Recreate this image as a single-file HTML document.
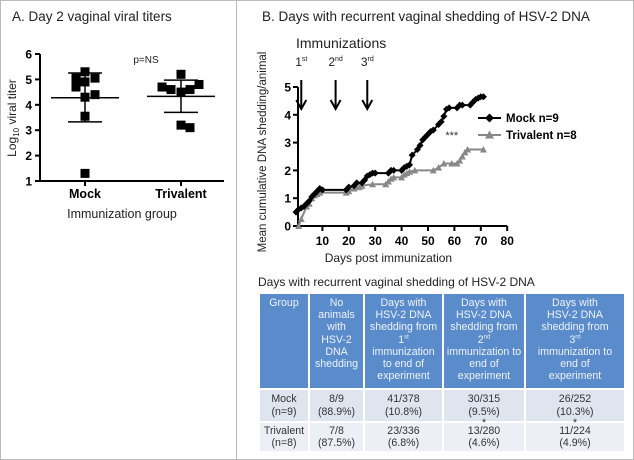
<!DOCTYPE html>
<html><head><meta charset="utf-8"><style>
body{margin:0;width:634px;height:460px;overflow:hidden;background:#fff;font-family:"Liberation Sans",sans-serif;}
#wrap{position:relative;width:634px;height:460px;}
.panel{position:absolute;border:1px solid #bbb;box-sizing:border-box;}
table{position:absolute;left:258px;top:292px;width:368px;border-collapse:collapse;font-size:10.6px;line-height:12.2px;text-align:center;}
th{background:#5a8ccb;color:#eef3fa;font-weight:normal;vertical-align:top;padding:3px 0;border:2px solid #fff;}
td{color:#333;padding:1px 0;border:2px solid #fff;}
tr.r1 td{background:#dfe5ef;height:29px;}
tr.r2 td{background:#eceff5;height:26px;}
sup{font-size:6px;line-height:0;}
</style></head><body><div id="wrap">
<div class="panel" style="left:0;top:0;width:237px;height:460px"></div>
<div class="panel" style="left:236px;top:0;width:398px;height:460px"></div>
<svg id="chartA" width="237" height="235" style="position:absolute;left:0;top:0"></svg>
<svg id="chartB" width="398" height="270" style="position:absolute;left:236px;top:0"></svg>
<div style="position:absolute;left:258px;top:275px;font-size:12px;color:#222">Days with recurrent vaginal shedding of HSV-2 DNA</div>
<table>
<tr style="height:96px"><th style="width:48px">Group</th><th style="width:53px">No<br>animals<br>with<br>HSV-2<br>DNA<br>shedding</th><th style="width:77px">Days with<br>HSV-2 DNA<br>shedding from<br>1<sup>st</sup><br>immunization<br>to end of<br>experiment</th><th style="width:80px">Days with<br>HSV-2 DNA<br>shedding from<br>2<sup>nd</sup><br>immunization to<br>end of<br>experiment</th><th>Days with<br>HSV-2 DNA<br>shedding from<br>3<sup>rd</sup><br>immunization to<br>end of<br>experiment</th></tr>
<tr class="r1"><td>Mock<br>(n=9)</td><td>8/9<br>(88.9%)</td><td>41/378<br>(10.8%)</td><td>30/315<br>(9.5%)</td><td>26/252<br>(10.3%)</td></tr>
<tr class="r2"><td>Trivalent<br>(n=8)</td><td>7/8<br>(87.5%)</td><td>23/336<br>(6.8%)</td><td style="position:relative"><span style="position:absolute;left:0;right:0;top:-6px">*</span>13/280<br>(4.6%)</td><td style="position:relative"><span style="position:absolute;left:0;right:0;top:-6px">*</span>11/224<br>(4.9%)</td></tr>
</table>
</div>
<script>
const NS="http://www.w3.org/2000/svg";
function mk(p,t,a,txt){const e=document.createElementNS(NS,t);for(const k in a)e.setAttribute(k,a[k]);if(txt!==undefined)e.textContent=txt;p.appendChild(e);return e;}
// Chart A data
const groupsA=["Mock","Trivalent"];
const mockTiters=[5.3,5.05,5.05,4.9,4.7,4.4,4.3,3.55,1.3];
const triTiters=[5.2,4.8,4.7,4.6,4.6,4.5,3.2,3.1];
const mockMean=4.28, mockUpper=5.25, mockLower=3.33;
const triMean=4.33, triUpper=4.97, triLower=3.7;
const mockOffsets=[0,-9,10,0,-9,10,0,0,0];
const triOffsets=[0,18,-19,-10,9,0,0,9];
const yTicksA=[1,2,3,4,5,6];
// Chart B data
const days=[0,1,2,3,4,5,6,7,8,9,10,19,20,22,23,25,26,27,28,29,30,35,36,37,40,41,42,43,44,46,47,48,49,50,51,52,54,55,56,57,58,61,62,63,66,67,68,69,70,71];
const mockShed=[0.5,0.6,0.65,0.7,0.8,0.9,1.05,1.15,1.25,1.35,1.3,1.3,1.4,1.45,1.55,1.55,1.65,1.8,1.85,1.9,1.9,1.9,2.0,2.0,2.0,2.1,2.15,2.2,2.55,2.75,2.9,3.1,3.2,3.3,3.4,3.45,3.65,3.75,3.95,4.2,4.25,4.25,4.35,4.35,4.35,4.45,4.55,4.6,4.65,4.65];
const triDays=[1,2,4,5,6,7,8,9,19,20,22,24,25,29,34,35,36,37,40,41,42,43,45,52,54,56,59,61,62,63,64,65,71];
const triShed=[0,0.25,0.7,0.8,1.0,1.1,1.15,1.2,1.2,1.25,1.35,1.4,1.45,1.5,1.5,1.6,1.7,1.75,1.75,1.85,1.9,1.95,2.0,2.0,2.1,2.25,2.25,2.25,2.35,2.5,2.65,2.75,2.75];
const xTicksB=[10,20,30,40,50,60,70,80];
const yTicksB=[0,1,2,3,4,5];
const immunDays=[2,15,27];
const immunLabels=[["1","st"],["2","nd"],["3","rd"]];

// ---- Chart A
(function(){
const s=document.getElementById('chartA');
const y=v=>181-(v-1)*25.4, gx=[85,181];
mk(s,'text',{x:12,y:21,'font-size':13.5,fill:'#222',},'A.  Day 2 vaginal viral titers');
mk(s,'line',{x1:40,x2:40,y1:y(6),y2:y(1)+1,stroke:'#000','stroke-width':2,});
mk(s,'line',{x1:39,x2:224,y1:y(1),y2:y(1),stroke:'#000','stroke-width':2,});
yTicksA.forEach(t=>{const l=mk(s,'line',{x1:35,x2:40,y1:y(t),y2:y(t),stroke:'#000','stroke-width':2});

const tx=mk(s,'text',{x:32,y:y(t)+4.5,'font-size':12,'font-weight':'bold','text-anchor':'end'},t);
});
groupsA.forEach((g,i)=>{mk(s,'line',{x1:gx[i],x2:gx[i],y1:y(1),y2:y(1)+5,stroke:'#000','stroke-width':2});
const tx=mk(s,'text',{x:gx[i],y:198,'font-size':12.5,'font-weight':'bold','text-anchor':'middle'},g);
});
const t=mk(s,'text',{transform:'translate(16,118) rotate(-90)','font-size':12,'text-anchor':'middle',fill:'#222',});
t.innerHTML='Log<tspan font-size="8" dy="3">10</tspan><tspan dy="-3"> viral titer</tspan>';
mk(s,'text',{x:122,y:218,'font-size':12.5,'text-anchor':'middle',fill:'#222',},'Immunization group');
mk(s,'text',{x:146,y:63,'font-size':10,'text-anchor':'middle',fill:'#222',},'p=NS');
const stats=[[mockMean,mockUpper,mockLower],[triMean,triUpper,triLower]];
[mockTiters,triTiters].forEach((arr,i)=>{const offs=i?triOffsets:mockOffsets;
const [m,u,lo]=stats[i];
const ml=mk(s,'line',{x1:gx[i]-34,x2:gx[i]+34,y1:y(m),y2:y(m),stroke:'#000','stroke-width':1.5});

[u,lo].forEach(v=>{const l=mk(s,'line',{x1:gx[i]-17,x2:gx[i]+17,y1:y(v),y2:y(v),stroke:'#000','stroke-width':1.5});
});
const e=mk(s,'line',{x1:gx[i],x2:gx[i],y1:y(u),y2:y(lo),stroke:'#000','stroke-width':1.5});

arr.forEach((v,j)=>{const r=mk(s,'rect',{x:gx[i]+offs[j]-4.5,y:y(v)-4.5,width:9,height:9,fill:'#000'});
});});
})();

// ---- Chart B
(function(){
const s=document.getElementById('chartB');
const X=d=>60+d*2.64, Y=v=>226-v*27.8;
mk(s,'text',{x:26,y:21,'font-size':13.5,fill:'#222',},'B.  Days with recurrent vaginal shedding of HSV-2 DNA');
mk(s,'text',{x:60,y:48,'font-size':14,fill:'#222',},'Immunizations');
mk(s,'line',{x1:62,x2:62,y1:Y(5),y2:Y(0)+1,stroke:'#000','stroke-width':2,});
mk(s,'line',{x1:61,x2:X(80),y1:Y(0),y2:Y(0),stroke:'#000','stroke-width':2,});
yTicksB.forEach(t=>{mk(s,'line',{x1:57,x2:62,y1:Y(t),y2:Y(t),stroke:'#000','stroke-width':2});
const tx=mk(s,'text',{x:55,y:Y(t)+4.5,'font-size':12,'font-weight':'bold','text-anchor':'end'},t);
});
xTicksB.forEach(t=>{mk(s,'line',{x1:X(t),x2:X(t),y1:Y(0),y2:Y(0)+5,stroke:'#000','stroke-width':2});
const tx=mk(s,'text',{x:X(t),y:Y(0)+19,'font-size':12,'font-weight':'bold','text-anchor':'middle'},t);
});
mk(s,'text',{x:X(35),y:262,'font-size':12,'text-anchor':'middle',fill:'#222',},'Days post immunization');
mk(s,'text',{transform:'translate(30,152) rotate(-90)','font-size':11.5,'text-anchor':'middle',fill:'#222',},'Mean cumulative DNA shedding/animal');
immunDays.forEach((d,i)=>{const tx=mk(s,'text',{x:X(d),y:66,'font-size':12,'text-anchor':'middle',fill:'#222'});
tx.innerHTML=immunLabels[i][0]+'<tspan font-size="7" dy="-5">'+immunLabels[i][1]+'</tspan>';

const a=mk(s,'path',{d:`M${X(d)} 80 V108 M${X(d)-5} 100 L${X(d)} 109 L${X(d)+5} 100`,stroke:'#000','stroke-width':2,fill:'none'});
});
const tp=triDays.map((d,i)=>X(d)+','+Y(triShed[i])).join(' ');
mk(s,'polyline',{points:tp,fill:'none',stroke:'#888','stroke-width':2,});
triDays.forEach((d,i)=>{const p=mk(s,'path',{d:`M${X(d)-3.5} ${Y(triShed[i])+3} L${X(d)+3.5} ${Y(triShed[i])+3} L${X(d)} ${Y(triShed[i])-3.5}Z`,fill:'#888'});
});
const mp=days.map((d,i)=>X(d)+','+Y(mockShed[i])).join(' ');
mk(s,'polyline',{points:mp,fill:'none',stroke:'#000','stroke-width':2,});
days.forEach((d,i)=>{const p=mk(s,'path',{d:`M${X(d)} ${Y(mockShed[i])-3.5} l3.5 3.5 l-3.5 3.5 l-3.5 -3.5Z`,fill:'#000'});
});
mk(s,'text',{x:X(59),y:139,'font-size':11,'text-anchor':'middle',fill:'#333',},'***');
mk(s,'line',{x1:242,x2:265,y1:118,y2:118,stroke:'#000','stroke-width':2,});
mk(s,'path',{d:'M253.5 113.5 l4.5 4.5 l-4.5 4.5 l-4.5 -4.5Z',fill:'#000',});
mk(s,'text',{x:270,y:122,'font-size':11.5,'font-weight':'bold',},'Mock n=9');
mk(s,'line',{x1:242,x2:265,y1:135,y2:135,stroke:'#888','stroke-width':2,});
mk(s,'path',{d:'M249 138.5 L258 138.5 L253.5 130.5Z',fill:'#888',});
mk(s,'text',{x:270,y:139,'font-size':11.5,'font-weight':'bold',},'Trivalent n=8');
})();
</script></body></html>
